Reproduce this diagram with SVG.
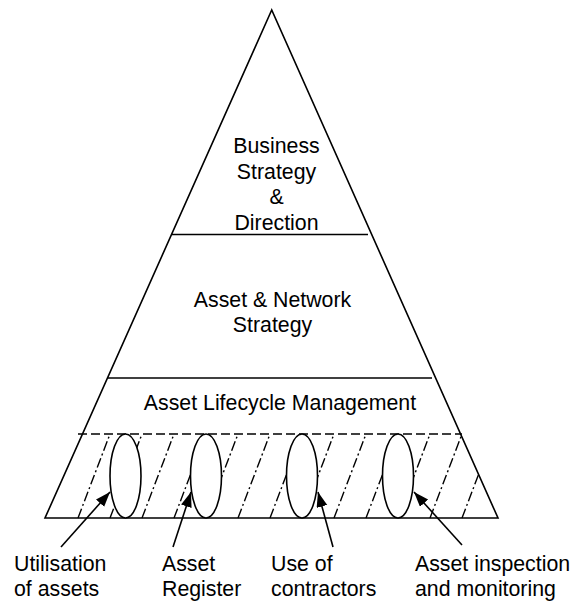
<svg xmlns="http://www.w3.org/2000/svg" width="571" height="602" viewBox="0 0 571 602">
  <style>
    .edge { fill: none; stroke: #000; stroke-width: 1.6; }
    .dash { fill: none; stroke: #000; stroke-width: 1.6; stroke-dasharray: 9 4; }
    .hatch { fill: none; stroke: #000; stroke-width: 1.4; stroke-dasharray: 10 3 2 3; }
    .ring { fill: #fff; stroke: #000; stroke-width: 1.6; }
    .arrow { fill: none; stroke: #000; stroke-width: 1.6; marker-end: url(#head); }
    text { font-family: "Liberation Sans", Arial, sans-serif; font-size: 21.3px; fill: #000; }
    .mid { text-anchor: middle; }
  </style>
  <defs>
    <marker id="head" markerUnits="userSpaceOnUse" markerWidth="16" markerHeight="12" refX="15" refY="5.5" orient="auto">
      <path d="M0,0 L15,5.5 L0,11 z" fill="#000"/>
    </marker>
    <clipPath id="baseClip">
      <polygon points="60,434 498,434 498,518 40,518"/>
    </clipPath>
  </defs>

  <!-- pyramid outline and tier dividers -->
  <g id="pyramid">
    <polygon class="edge" points="271.7,10 45,518 498,518"/>
    <line class="edge" x1="172" y1="234.5" x2="368" y2="234.5"/>
    <line class="edge" x1="108" y1="378" x2="432" y2="378"/>
  </g>

  <g id="tier-business">
    <text class="mid" x="276.5" y="153">Business</text>
    <text class="mid" x="276.5" y="178.5">Strategy</text>
    <text class="mid" x="276.5" y="204">&amp;</text>
    <text class="mid" x="276.5" y="229.5">Direction</text>
  </g>

  <g id="tier-network">
    <text class="mid" x="272.5" y="307">Asset &amp; Network</text>
    <text class="mid" x="272.5" y="332">Strategy</text>
  </g>

  <g id="tier-lifecycle">
    <text class="mid" x="280" y="410">Asset Lifecycle Management</text>
  </g>

  <!-- hatched foundation band -->
  <g id="foundation">
    <line class="dash" x1="78" y1="434" x2="462" y2="434"/>
    <g>
      <line class="hatch" x1="78" y1="518" x2="110" y2="434"/>
      <line class="hatch" x1="110" y1="518" x2="142" y2="434"/>
      <line class="hatch" x1="142" y1="518" x2="174" y2="434"/>
      <line class="hatch" x1="174" y1="518" x2="206" y2="434"/>
      <line class="hatch" x1="206" y1="518" x2="238" y2="434"/>
      <line class="hatch" x1="238" y1="518" x2="270" y2="434"/>
      <line class="hatch" x1="270" y1="518" x2="302" y2="434"/>
      <line class="hatch" x1="302" y1="518" x2="334" y2="434"/>
      <line class="hatch" x1="334" y1="518" x2="366" y2="434"/>
      <line class="hatch" x1="366" y1="518" x2="398" y2="434"/>
      <line class="hatch" x1="398" y1="518" x2="430" y2="434"/>
      <line class="hatch" x1="430" y1="518" x2="462" y2="434"/>
      <line class="hatch" x1="462" y1="518" x2="478.6" y2="474.4"/>
    </g>
  </g>

  <g id="pillar-utilisation">
    <ellipse class="ring" cx="125.5" cy="476" rx="15.5" ry="42"/>
    <text x="14" y="571">Utilisation</text>
    <text x="14" y="596">of assets</text>
  </g>

  <g id="pillar-register">
    <ellipse class="ring" cx="206" cy="476" rx="15.5" ry="42"/>
    <text x="162" y="571">Asset</text>
    <text x="162" y="596">Register</text>
  </g>

  <g id="pillar-contractors">
    <ellipse class="ring" cx="302" cy="476" rx="15.5" ry="42"/>
    <text x="271" y="571">Use of</text>
    <text x="271" y="596">contractors</text>
  </g>

  <g id="pillar-inspection">
    <ellipse class="ring" cx="398" cy="476" rx="15.5" ry="42"/>
    <text x="415" y="571">Asset inspection</text>
    <text x="415" y="596">and monitoring</text>
  </g>

  <!-- pointers from captions to pillars -->
  <g id="connectors">
    <line class="arrow" x1="61" y1="547" x2="110" y2="492"/>
    <line class="arrow" x1="173" y1="547" x2="191" y2="492"/>
    <line class="arrow" x1="333" y1="547" x2="318" y2="492"/>
    <line class="arrow" x1="462" y1="545" x2="414" y2="492"/>
  </g>
</svg>
